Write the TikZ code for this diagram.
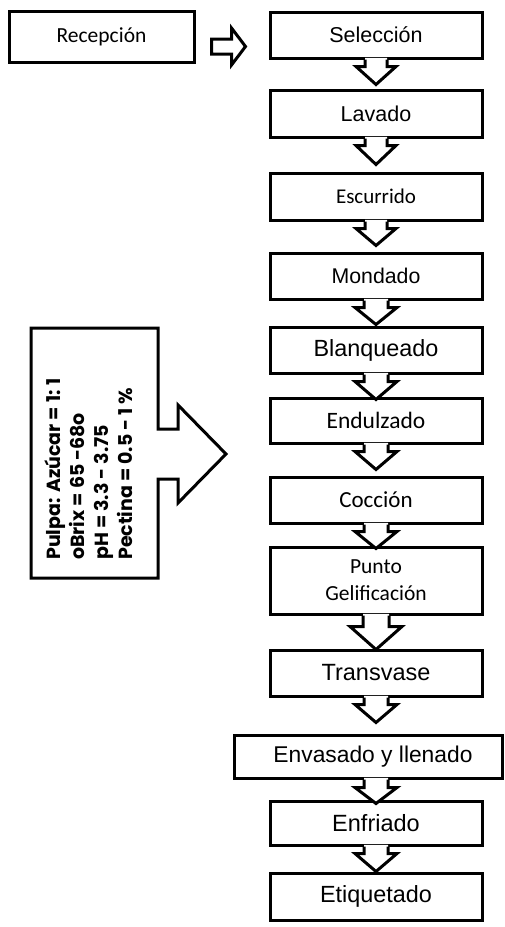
\documentclass[tikz,border=0pt]{standalone}
\usepackage{fontspec}
\setmainfont{Liberation Sans}
\newfontfamily\calfont{Carlito}
\newfontfamily\gothfont{Poppins}
\usetikzlibrary{calc}
\tikzset{
  box/.style={draw, line width=3pt, fill=white, inner sep=0pt, minimum width=212pt, minimum height=46pt, align=center},
  arr/.style={draw, line width=3pt, line join=miter},
}
\newcommand\dnarrow[6]{%
  \fill[white] let \p1=(#1.south), \p2=(#2.south) in
    (\x1-#5pt,\y2+1.6pt) -- (\x1-#5pt,\y2-#4pt) -- (\x1-#6pt,\y2-#4pt) -- (\x1,\y2-#3pt)
    -- (\x1+#6pt,\y2-#4pt) -- (\x1+#5pt,\y2-#4pt) -- (\x1+#5pt,\y2+1.6pt) -- cycle;
  \draw[arr] let \p1=(#1.south), \p2=(#2.south) in
    (\x1-#5pt,\y2) -- (\x1-#5pt,\y2-#4pt) -- (\x1-#6pt,\y2-#4pt) -- (\x1,\y2-#3pt)
    -- (\x1+#6pt,\y2-#4pt) -- (\x1+#5pt,\y2-#4pt) -- (\x1+#5pt,\y2);
}
\begin{document}
\begin{tikzpicture}[x=1pt,y=-1pt]
\useasboundingbox[fill=white] (0,0) rectangle (505,927);
% boxes
\node[box, minimum width=185pt, minimum height=51pt, font=\calfont\fontsize{21.5}{24}\selectfont] (rec) at (101.5,36.5) {Recepción};
\node[box, font=\fontsize{21.5}{24}\selectfont] (sel) at (376,35) {Selección};
\node[box, minimum height=47pt, font=\fontsize{21.5}{24}\selectfont] (lav) at (376,113.5) {Lavado};
\node[box, minimum height=47pt, font=\calfont\fontsize{21}{24}\selectfont] (esc) at (376,196.5) {Escurrido};
\node[box, font=\fontsize{21.3}{24}\selectfont] (mon) at (376,276) {Mondado};
\node[box, font=\fontsize{23.4}{26}\selectfont] (bla) at (376,350) {Blanqueado};
\node[box, minimum height=45pt, font=\calfont\fontsize{23.5}{26}\selectfont] (end) at (376,420.5) {Endulzado};
\node[box, font=\calfont\fontsize{23}{26}\selectfont] (coc) at (376,500) {Cocción};
\node[box, minimum height=67pt, font=\calfont\fontsize{21.5}{27}\selectfont] (pun) at (376,580.5) {Punto\\Gelificación};
\node[box, font=\fontsize{23.5}{26}\selectfont] (tra) at (376,673) {Transvase};
\node[box, minimum width=268pt, minimum height=43pt, font=\fontsize{22.8}{26}\selectfont] (env) at (368,756.5) {\hspace*{10pt}Envasado y llenado};
\node[box, minimum height=44pt, font=\fontsize{23.5}{26}\selectfont] (enf) at (376,823) {Enfriado};
\node[box, minimum height=47pt, font=\fontsize{23.4}{26}\selectfont] (eti) at (376,896.5) {Etiquetado};
% horizontal block arrow
\draw[arr, fill=white] let \p1=(rec.east), \p2=(sel.west) in
  (\x1+16pt,\y1-2.5pt) -- (\x1+36pt,\y1-2.5pt) -- (\x1+36pt,\y1+8.5pt) -- (\x2-23pt,\y1-10pt)
  -- (\x1+36pt,\y1-28.5pt) -- (\x1+36pt,\y1-17.5pt) -- (\x1+16pt,\y1-17.5pt) -- cycle;
% down arrows
\dnarrow{sel}{sel}{25}{7}{11}{20}
\dnarrow{lav}{lav}{26}{7}{11}{20}
\dnarrow{esc}{esc}{24}{7}{11}{20}
\dnarrow{mon}{mon}{24}{7}{12}{21}
\dnarrow{bla}{bla}{25}{7}{12}{21}
\dnarrow{end}{end}{25}{7}{12}{21}
\dnarrow{coc}{coc}{24}{7}{12}{21}
\dnarrow{pun}{pun}{34}{11}{13}{26}
\dnarrow{tra}{tra}{25}{7}{12}{21}
\dnarrow{enf}{env}{24}{8}{12}{21}
\dnarrow{enf}{enf}{25}{7}{12}{21}
% parameter callout
\draw[arr, fill=white] (31,328) -- (158,328) -- (158,429) -- (178,429) -- (178,405) -- (226,454)
  -- (178,503) -- (178,479) -- (158,479) -- (158,578) -- (31,578) -- cycle;
\node[rotate=90, anchor=west, align=left, inner sep=0pt, font=\gothfont\bfseries\fontsize{19}{24}\selectfont] (par) at (89,560)
  {Pulpa: Azúcar = 1: 1\\oBrix = 65 -68o\\pH = 3.3 - 3.75\\Pectina = 0.5 - 1 \%};
\end{tikzpicture}
\end{document}
